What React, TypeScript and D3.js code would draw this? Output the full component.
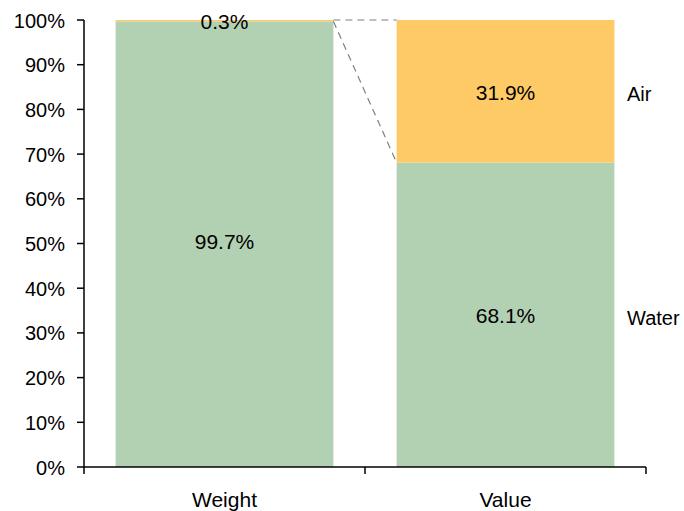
import React from "react";
import * as d3 from "d3";

const categories = ["Weight", "Value"];
const series = ["Water", "Air"];
const waterValues = [99.7, 68.1];
const airValues = [0.3, 31.9];
const yTicks = [0, 10, 20, 30, 40, 50, 60, 70, 80, 90, 100];
const colors = { Water: "#B2D1B2", Air: "#FECA66" };

export default function App() {
  const W = 684, H = 511;
  const left = 84, right = 646, top = 20, bottom = 467;
  const x = d3.scaleBand<string>().domain(categories).range([left, right]).paddingInner(0.225).paddingOuter(0.1125);
  const band = d3.scaleBand<string>().domain(categories).range([left, right]);
  const y = d3.scaleLinear().domain([0, 100]).range([bottom, top]);
  const font = "Arial, 'Liberation Sans', sans-serif";

  const stackData = categories.map((c, i) => ({ cat: c, Water: waterValues[i], Air: airValues[i] }));
  const stacked = d3.stack<any>().keys(series)(stackData);

  const bw = x.bandwidth();
  const w0 = categories[0], w1 = categories[1];
  const x0r = (x(w0) as number) + bw;
  const x1l = x(w1) as number;

  return (
    <svg width={W} height={H} style={{ position: "absolute", left: 0, top: 0 }} fontFamily={font}>
      {stacked.map((s) => (
        <g key={s.key}>
          {s.map((d, i) => (
            <rect key={i} x={x(categories[i])} y={y(d[1])} width={bw} height={y(d[0]) - y(d[1])} fill={(colors as any)[s.key]} />
          ))}
        </g>
      ))}
      {/* connector lines */}
      <line x1={x0r} y1={y(100)} x2={x1l} y2={y(100)} stroke="#808080" strokeWidth={1.2} strokeDasharray="7,5" />
      <line x1={x0r} y1={y(waterValues[0])} x2={x1l} y2={y(waterValues[1])} stroke="#808080" strokeWidth={1.2} strokeDasharray="7,5" />
      {/* labels in bars */}
      {stacked.map((s) =>
        s.map((d, i) => {
          const mid = (y(d[0]) + y(d[1])) / 2;
          const yy = d[1] - d[0] > 90 ? mid - 3 : mid + 1;
          return (
            <text key={s.key + i} x={(x(categories[i]) as number) + bw / 2} y={yy} textAnchor="middle" dominantBaseline="central" fontSize={21} fill="#000">
              {(d[1] - d[0]).toFixed(1)}%
            </text>
          );
        })
      )}
      {/* series labels */}
      {stacked.map((s) => {
        const d = s[1];
        return (
          <text key={s.key} x={627} y={(y(d[0]) + y(d[1])) / 2 + 3} dominantBaseline="central" fontSize={20} fill="#000">
            {s.key}
          </text>
        );
      })}
      {/* y axis */}
      <line x1={left} y1={top} x2={left} y2={bottom} stroke="#000" strokeWidth={1.5} />
      {yTicks.map((t) => (
        <g key={t}>
          <line x1={left - 7} y1={y(t)} x2={left} y2={y(t)} stroke="#000" strokeWidth={1.5} />
          <text x={65} y={y(t) + 0.5} textAnchor="end" dominantBaseline="central" fontSize={20} fill="#000">
            {t}%
          </text>
        </g>
      ))}
      {/* x axis */}
      <line x1={left} y1={bottom} x2={right} y2={bottom} stroke="#000" strokeWidth={1.5} />
      {[left, ...categories.map((c) => (band(c) as number) + band.bandwidth())].map((v, i) => (
        <line key={i} x1={v} y1={bottom} x2={v} y2={bottom + 7} stroke="#000" strokeWidth={1.5} />
      ))}
      {categories.map((c) => (
        <text key={c} x={(band(c) as number) + band.bandwidth() / 2} y={499.5} textAnchor="middle" dominantBaseline="central" fontSize={21} fill="#000">
          {c}
        </text>
      ))}
    </svg>
  );
}
